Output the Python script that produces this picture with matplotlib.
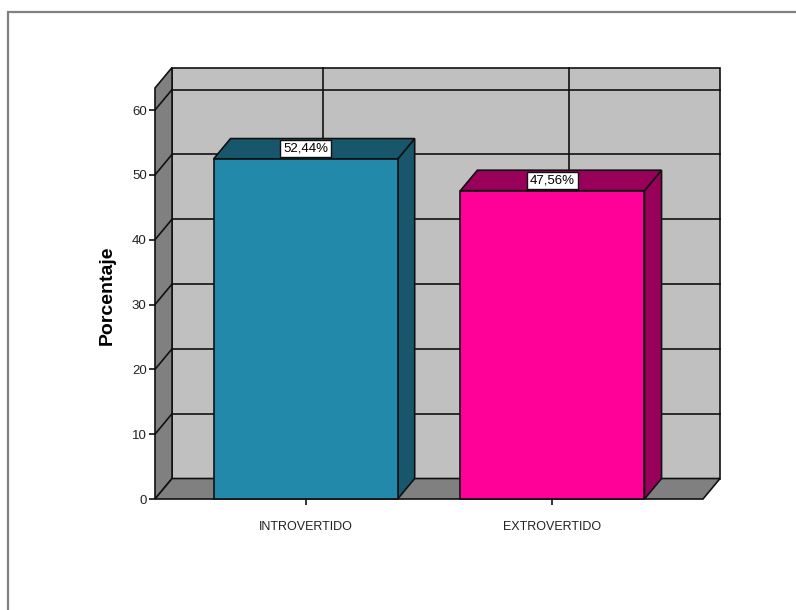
import matplotlib
matplotlib.use("Agg")
import matplotlib.pyplot as plt
from matplotlib.patches import Polygon, Rectangle

plt.rcParams['font.family'] = ['Liberation Sans', 'DejaVu Sans']

categories = ["INTROVERTIDO", "EXTROVERTIDO"]
porcentajes = [52.44, 47.56]
yticks = [0, 10, 20, 30, 40, 50, 60]

front_colors = ["#2389AB", "#FF0099"]
dark_colors = ["#18566C", "#99005A"]

wall_back = "#C0C0C0"
wall_side = "#808080"

# limites del plano frontal y profundidad 3D (en unidades de datos)
x0, x1 = -0.61, 1.61
ymax = 63.4
dx, dy = 0.069, 3.16
bw = 0.373  # media anchura de barra

fig = plt.figure(figsize=(7.96, 6.10), dpi=100)
ax = fig.add_axes([155 / 796, 1 - 499 / 610, 548 / 796, 411 / 610])
ax.set_xlim(x0, x1)
ax.set_ylim(0, ymax)
for s in ax.spines.values():
    s.set_visible(False)
ax.patch.set_visible(False)

lw = 1.2
ec = "#111111"

# pared del fondo
ax.add_patch(Rectangle((x0 + dx, dy), x1 - x0, ymax, facecolor=wall_back,
                       edgecolor=ec, lw=lw, clip_on=False, zorder=1))
for t in yticks[1:]:
    ax.plot([x0 + dx, x1 + dx], [t + dy, t + dy], color=ec, lw=lw, clip_on=False, zorder=2)
for i in range(len(categories)):
    ax.plot([i + dx, i + dx], [dy, ymax + dy], color=ec, lw=lw, clip_on=False, zorder=2)

# pared izquierda
ax.add_patch(Polygon([(x0, 0), (x0 + dx, dy), (x0 + dx, ymax + dy), (x0, ymax)],
                     closed=True, facecolor=wall_side, edgecolor=ec, lw=lw,
                     clip_on=False, zorder=3))
for t in yticks[1:]:
    ax.plot([x0, x0 + dx], [t, t + dy], color=ec, lw=lw, clip_on=False, zorder=4)

# suelo
ax.add_patch(Polygon([(x0, 0), (x1, 0), (x1 + dx, dy), (x0 + dx, dy)],
                     closed=True, facecolor=wall_side, edgecolor=ec, lw=lw,
                     clip_on=False, zorder=3))

# barras
for i, v in enumerate(porcentajes):
    l, r = i - bw, i + bw
    ax.add_patch(Polygon([(r, 0), (r + dx, dy), (r + dx, v + dy), (r, v)],
                         closed=True, facecolor=dark_colors[i], edgecolor=ec, lw=lw,
                         clip_on=False, zorder=5))
    ax.add_patch(Polygon([(l, v), (r, v), (r + dx, v + dy), (l + dx, v + dy)],
                         closed=True, facecolor=dark_colors[i], edgecolor=ec, lw=lw,
                         clip_on=False, zorder=5))
    ax.add_patch(Rectangle((l, 0), r - l, v, facecolor=front_colors[i],
                           edgecolor=ec, lw=lw, clip_on=False, zorder=6))
    ax.text(i, v + dy / 2, f"{v:.2f}%".replace(".", ","), ha="center", va="center",
            fontsize=9.5, color="black", zorder=8,
            bbox=dict(boxstyle="square,pad=0.2", facecolor="white", edgecolor=ec, lw=1))

ax.set_yticks(yticks)
ax.set_yticklabels([str(t) for t in yticks], fontsize=9.5, color="#222222")
ax.set_xticks(range(len(categories)))
ax.set_xticklabels(categories, fontsize=9, color="#222222")
ax.tick_params(axis="y", length=4, width=1.2, pad=2, color=ec)
ax.tick_params(axis="x", length=4, width=1.2, pad=12, color=ec)

ax.set_ylabel("Porcentaje", fontsize=14, fontweight="bold")
ax.yaxis.set_label_coords(-0.072, 0.496)

# marco exterior
fig.patches.append(Rectangle((8 / 796, -0.1), 1.2, 1.1 - 12 / 610, transform=fig.transFigure,
                             fill=False, edgecolor="#808080", lw=1.6))

fig.savefig("out.png", dpi=100)
